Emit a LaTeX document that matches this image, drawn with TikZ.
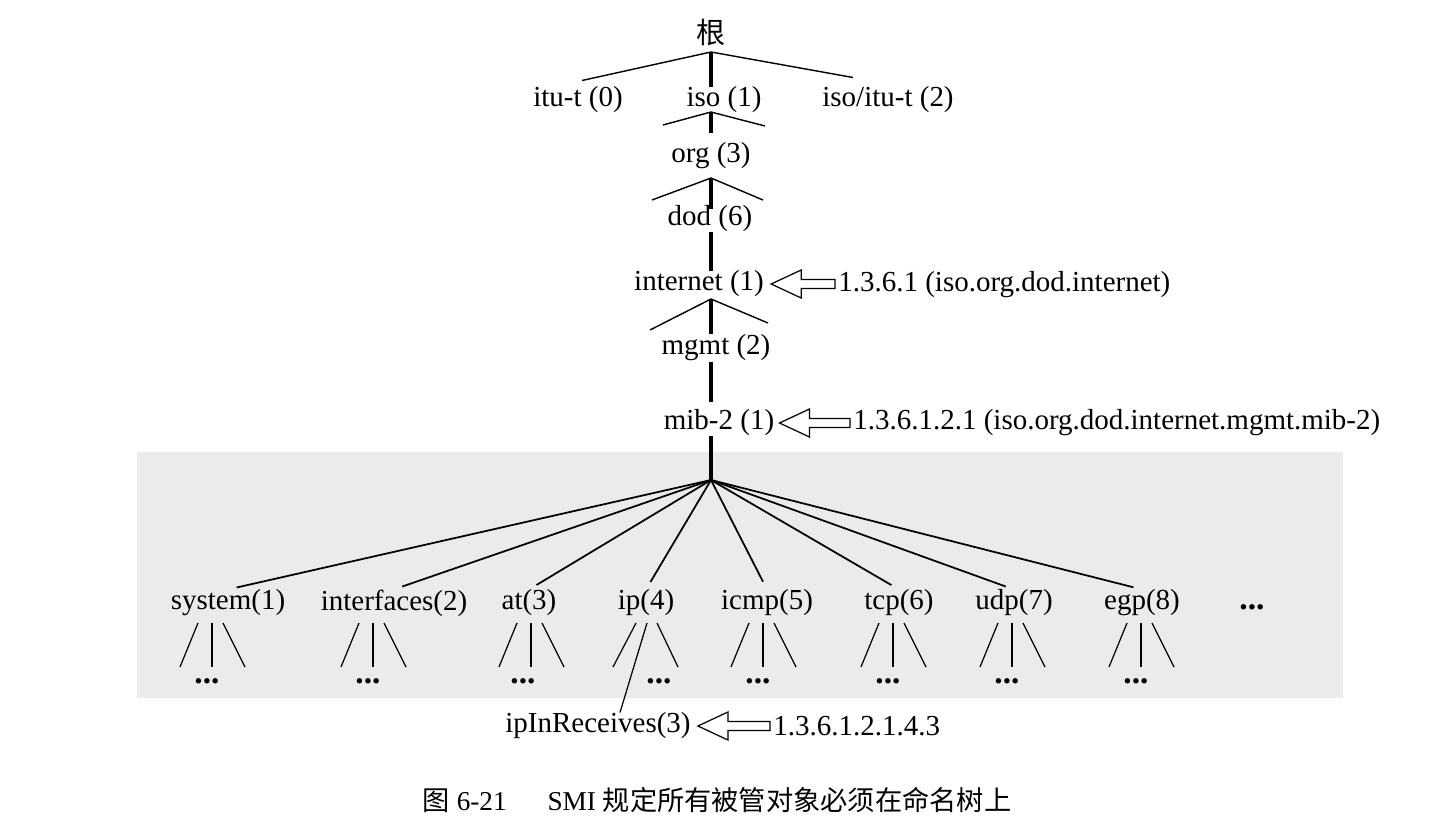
\documentclass[tikz,border=0pt]{standalone}
\usepackage{fontspec}
\setmainfont{Liberation Serif}
\newfontfamily\cjk{Noto Sans CJK SC}
\usetikzlibrary{calc}

\begin{document}
\begin{tikzpicture}[x=0.02cm,y=-0.02cm]
        \tikzstyle{treenode}=[inner sep=0pt,font=\fontsize{16.5}{19}\selectfont]
        \tikzstyle{dots}=[inner sep=0pt,font=\fontsize{19}{19}\selectfont\bfseries]
        \tikzstyle{trunk}=[draw,line width=2.8pt]
        \tikzstyle{twig}=[draw,line width=0.8pt]
        \tikzstyle{branch}=[draw,line width=1pt,shorten >=5pt]
        \tikzstyle{fanline}=[draw,line width=0.7pt]
        \tikzstyle{hollow}=[draw,line width=0.7pt,line join=miter]
        \useasboundingbox (0,0) rectangle (1430,835);
        \fill[black!8] (137,452) rectangle (1343,698);
       \begin{scope}
         % upper part of the tree
         \node [treenode,font={\cjk\fontsize{16.5}{19}\selectfont}] (root) at (711,32) {根};
         \node [treenode] (itu) at (578,100) {itu-t (0)};
         \node [treenode] (iso) at (724,100) {iso (1)};
         \node [treenode] (isoitu) at (888,100) {iso/itu-t (2)};
         \node [treenode] (org) at (711,156) {org (3)};
         \node [treenode] (dod) at (710,219) {dod (6)};
         \node [treenode] (internet) at (699,284) {internet (1)};
         \node [treenode] (mgmt) at (716,348) {mgmt (2)};
         \node [treenode] (mib2) at (719,423) {mib-2 (1)};

         \coordinate (j0) at (711,52);
         \coordinate (j1) at (711,112);
         \coordinate (j2) at (711,178);
         \coordinate (j3) at (711,299);
         \coordinate (j4) at (711,480);

         \path[trunk] (j0) -- (j0 |- iso.north);
         \path[trunk] (j1) -- ($(j1 |- org.north)+(0,-9)$);
         \path[trunk] (j2) -- ($(j2 |- dod.north)+(0,3)$);
         \path[trunk] (j2 |- dod.south) -- (j2 |- internet.north);
         \path[trunk] (j3) -- (j3 |- mgmt.north);
         \path[trunk] (j3 |- mgmt.south) -- ($(j3 |- mib2.north)+(0,-8)$);
         \path[trunk] (j3 |- mib2.south) -- (j4);

         \path[twig] (j0) -- ($(itu.north)+(4,-6)$);
         \path[twig] (j0) -- ($(isoitu.north)+(-35,-9)$);
         \path[twig] (j1) -- ++(-48,13);
         \path[twig] (j1) -- ++(54,14);
         \path[twig] (j2) -- ++(-59,22);
         \path[twig] (j2) -- ++(52,22);
         \path[twig] (j3) -- ++(-61,31);
         \path[twig] (j3) -- ++(57,24);

         % object identifiers
         \node [treenode,anchor=west] (oid-internet) at (838,285) {1.3.6.1 (iso.org.dod.internet)};
         \node [treenode,anchor=west] (oid-mib2) at (853,423) {1.3.6.1.2.1 (iso.org.dod.internet.mgmt.mib-2)};

         \coordinate (a1) at ($(internet.east)+(7,0)$);
         \path[hollow] (a1) -- ++(30,-14) -- ++(0,9.5) -- ($(a1 -| oid-internet.west)+(-3,-4.5)$) -- ++(0,9) -- ($(a1)+(30,4.5)$) -- ++(0,9.5) -- cycle;
         \coordinate (a2) at ($(mib2.east)+(5,0)$);
         \path[hollow] (a2) -- ++(30,-14) -- ++(0,9.5) -- ($(a2 -| oid-mib2.west)+(-3,-4.5)$) -- ++(0,9) -- ($(a2)+(30,4.5)$) -- ++(0,9.5) -- cycle;
        \end{scope}

       \begin{scope}
         % mib-2 subtree
         \node [treenode] (sys1) at (228,603) {system(1)};
         \node [treenode] (if2) at (394,603) {interfaces(2)};
         \node [treenode] (at3) at (529,603) {at(3)};
         \node [treenode] (ip4) at (646,603) {ip(4)};
         \node [treenode] (icmp5) at (767,603) {icmp(5)};
         \node [treenode] (tcp6) at (899,603) {tcp(6)};
         \node [treenode] (udp7) at (1014,603) {udp(7)};
         \node [treenode] (egp8) at (1142,603) {egp(8)};
         \node [dots] (more) at (1252,607) {...};

         \path[branch] (j4) -- (sys1.north);
         \path[branch] (j4) -- (if2.north);
         \path[branch] (j4) -- (at3.north);
         \path[branch] (j4) -- (ip4.north);
         \path[branch] (j4) -- (icmp5.north);
         \path[branch] (j4) -- (tcp6.north);
         \path[branch] (j4) -- (udp7.north);
         \path[branch] (j4) -- (egp8.north);

         \coordinate (f1) at (212,623);
         \coordinate (f2) at (373,623);
         \coordinate (f3) at (531,623);
         \coordinate (f4) at (647,623);
         \coordinate (f5) at (763,623);
         \coordinate (f6) at (893,623);
         \coordinate (f7) at (1012,623);
         \coordinate (f8) at (1141,623);

         \path[fanline] ($(f1)+(-14,0)$) -- ++(-18,44);
         \path[fanline] (f1) -- ++(0,44);
         \path[fanline] ($(f1)+(11,0)$) -- ++(22,44);
         \node [dots] (d1) at ($(f1)+(-5,58)$) {...};

         \path[fanline] ($(f2)+(-14,0)$) -- ++(-18,44);
         \path[fanline] (f2) -- ++(0,44);
         \path[fanline] ($(f2)+(11,0)$) -- ++(22,44);
         \node [dots] (d2) at ($(f2)+(-5,58)$) {...};

         \path[fanline] ($(f3)+(-14,0)$) -- ++(-18,44);
         \path[fanline] (f3) -- ++(0,44);
         \path[fanline] ($(f3)+(11,0)$) -- ++(22,44);
         \node [dots] (d3) at ($(f3)+(-8,58)$) {...};

         \node [treenode] (ipin) at (598,726) {ipInReceives(3)};
         \path[fanline] ($(f4)+(-11,0)$) -- ++(-23,44);
         \path[fanline] (f4) -- ($(ipin.north)+(22,0)$);
         \path[fanline] ($(f4)+(10,0)$) -- ++(21,44);
         \node [dots] (d4) at ($(f4)+(12,58)$) {...};

         \path[fanline] ($(f5)+(-14,0)$) -- ++(-18,44);
         \path[fanline] (f5) -- ++(0,44);
         \path[fanline] ($(f5)+(11,0)$) -- ++(22,44);
         \node [dots] (d5) at ($(f5)+(-5,58)$) {...};

         \path[fanline] ($(f6)+(-14,0)$) -- ++(-18,44);
         \path[fanline] (f6) -- ++(0,44);
         \path[fanline] ($(f6)+(11,0)$) -- ++(22,44);
         \node [dots] (d6) at ($(f6)+(-5,58)$) {...};

         \path[fanline] ($(f7)+(-14,0)$) -- ++(-18,44);
         \path[fanline] (f7) -- ++(0,44);
         \path[fanline] ($(f7)+(11,0)$) -- ++(22,44);
         \node [dots] (d7) at ($(f7)+(-5,58)$) {...};

         \path[fanline] ($(f8)+(-14,0)$) -- ++(-18,44);
         \path[fanline] (f8) -- ++(0,44);
         \path[fanline] ($(f8)+(11,0)$) -- ++(22,44);
         \node [dots] (d8) at ($(f8)+(-5,58)$) {...};

         \node [treenode,anchor=west] (oid-ipin) at (773,726) {1.3.6.1.2.1.4.3};
         \coordinate (a3) at ($(ipin.east)+(7,0)$);
         \path[hollow] (a3) -- ++(30,-14) -- ++(0,9.5) -- ($(a3 -| oid-ipin.west)+(-3,-4.5)$) -- ++(0,9) -- ($(a3)+(30,4.5)$) -- ++(0,9.5) -- cycle;
        \end{scope}

         \node [treenode,font=\fontsize{15.5}{19}\selectfont] (caption) at (717,800) {{\cjk 图} 6-21\quad\enspace SMI {\cjk 规定所有被管对象必须在命名树上}};
      \end{tikzpicture}
\end{document}
